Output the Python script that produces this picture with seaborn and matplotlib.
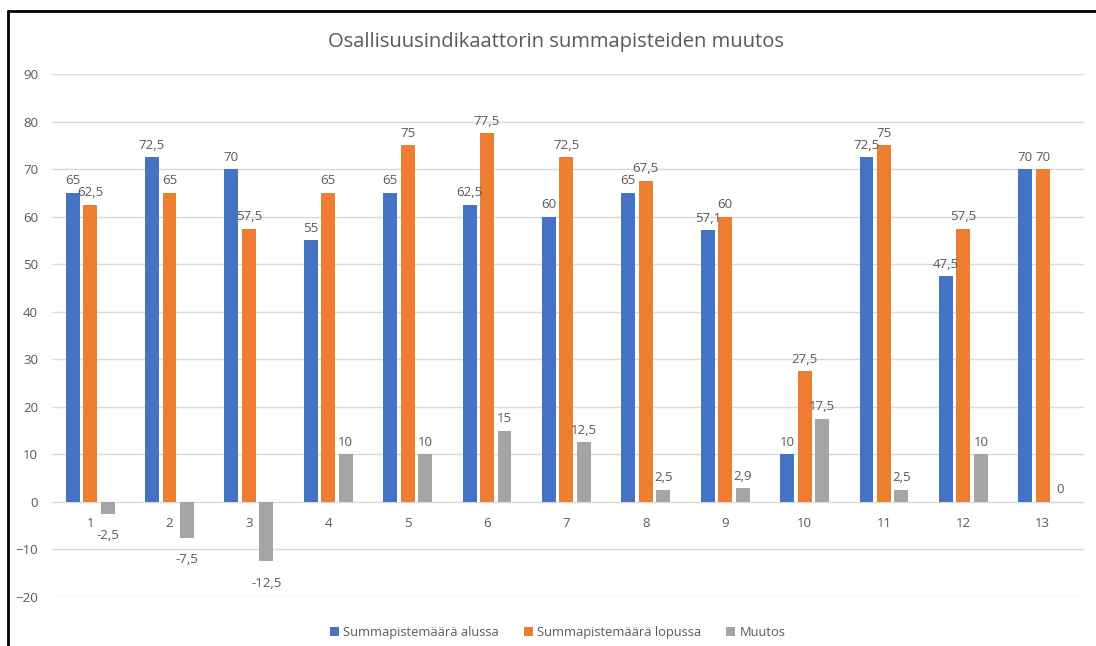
import pandas as pd
import numpy as np
import matplotlib.pyplot as plt
import seaborn as sns
from matplotlib.lines import Line2D

sns.set_theme(style='white')
plt.rcParams['font.family'] = ['Open Sans', 'DejaVu Sans']

# data
kategoriat = [str(i) for i in range(1, 14)]
alussa = [65, 72.5, 70, 55, 65, 62.5, 60, 65, 57.1, 10, 72.5, 47.5, 70]
lopussa = [62.5, 65, 57.5, 65, 75, 77.5, 72.5, 67.5, 60, 27.5, 75, 57.5, 70]
muutos = [-2.5, -7.5, -12.5, 10, 10, 15, 12.5, 2.5, 2.9, 17.5, 2.5, 10, 0]
sarjat = ['Summapistemäärä alussa', 'Summapistemäärä lopussa', 'Muutos']
varit = ['#4472C4', '#ED7D31', '#A5A5A5']

df = pd.DataFrame({
    'kategoria': kategoriat * 3,
    'sarja': [sarjat[0]] * 13 + [sarjat[1]] * 13 + [sarjat[2]] * 13,
    'arvo': alussa + lopussa + muutos,
})

teksti = '#595959'

fig = plt.figure(figsize=(10.96, 6.46), dpi=100)
ax = fig.add_axes([52 / 1096, 1 - 597 / 646, 1032 / 1096, 523 / 646])

sns.barplot(data=df, x='kategoria', y='arvo', hue='sarja', palette=varit,
            width=0.66, gap=0.2, ax=ax, saturation=1, errorbar=None,
            linewidth=0)

ax.set_ylim(-20, 90)
ax.set_xlim(-0.48, 12.52)
ax.set_yticks(range(-20, 91, 10))
ax.grid(axis='y', color='#d9d9d9', linewidth=1)
ax.set_axisbelow(True)
for s in ax.spines.values():
    s.set_visible(False)
ax.spines['bottom'].set_position(('data', 0))
ax.tick_params(axis='x', length=0, pad=11, labelsize=9.5, labelcolor=teksti)
ax.tick_params(axis='y', length=0, pad=10, labelsize=9.5, labelcolor=teksti)
ax.set_xlabel('')
ax.set_ylabel('')

# Excel style labels: comma as decimal mark, a bit further away below negatives
for cont in ax.containers:
    labels = ax.bar_label(cont, fmt=lambda v: f'{v:g}'.replace('.', ','),
                          padding=4, fontsize=9.5, color=teksti)
    for lab, v in zip(labels, cont.datavalues):
        if v < 0:
            lab.xyann = (0, -11)

ax.legend(loc='upper center', bbox_to_anchor=(0.49, -0.033), ncol=3,
          frameon=False, fontsize=9.3, labelcolor=teksti,
          handlelength=0.7, handleheight=0.7, handletextpad=0.35,
          columnspacing=1.9)

fig.text(0.507, 1 - 42 / 646, 'Osallisuusindikaattorin summapisteiden muutos',
         ha='center', va='center', fontsize=14.5, color=teksti)

# black frame on left and top edges
fig.add_artist(Line2D([8 / 1096, 8 / 1096], [0, 1 - 11 / 646],
                      transform=fig.transFigure, color='black', linewidth=2))
fig.add_artist(Line2D([8 / 1096, 1], [1 - 11 / 646, 1 - 11 / 646],
                      transform=fig.transFigure, color='black', linewidth=2))

fig.savefig('out.png', dpi=100)
